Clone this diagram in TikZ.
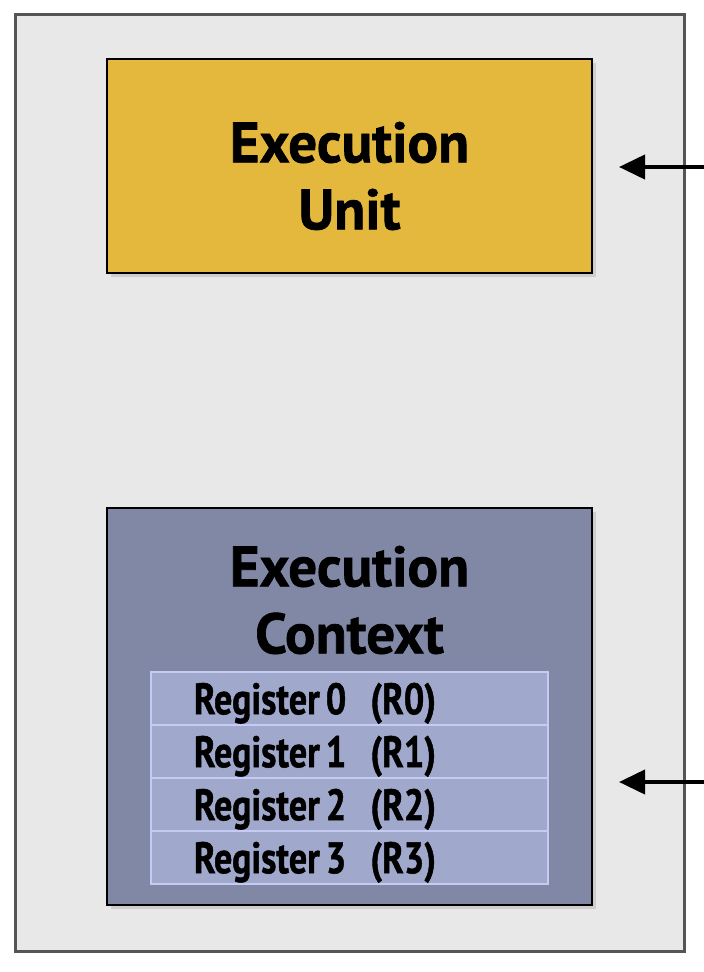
\documentclass[tikz,border=0pt]{standalone}
\usepackage{fontspec}
\setmainfont{PT Sans}
\newfontfamily\heavy[FakeBold=1.2]{PT Sans Bold}
\usetikzlibrary{arrows.meta,shadows}
\definecolor{outerfill}{HTML}{E8E8E8}
\definecolor{outerdraw}{HTML}{555555}
\definecolor{eufill}{HTML}{E3B83C}
\definecolor{ecfill}{HTML}{8088A6}
\definecolor{regfill}{HTML}{A0A8CC}
\definecolor{regdraw}{HTML}{C4CCF4}
\tikzset{
  outerbox/.style={draw=outerdraw,fill=outerfill,line width=3pt,minimum width=669pt,minimum height=937pt,inner sep=0pt},
  titlefont/.style={font=\fontsize{57}{67}\selectfont\heavy},
  unitbox/.style={draw=black,line width=2.5pt,minimum width=485pt,inner sep=0pt,align=center,titlefont,
    drop shadow={shadow xshift=4pt,shadow yshift=-4pt,opacity=0.25}},
  regbox/.style={draw=regdraw,fill=regfill,line width=1.5pt,minimum width=397pt,minimum height=53pt,inner sep=0pt,
    text width=397pt,text depth=0pt,font=\fontsize{44}{48}\selectfont\heavy},
  inarrow/.style={line width=4pt,-{Triangle[length=26pt,width=24pt]}}
}
\newcommand{\regtext}[1]{\hspace*{43pt}\scalebox{0.82}[1]{#1}}
\begin{document}
\begin{tikzpicture}[x=1pt,y=-1pt]
\useasboundingbox (0,0) rectangle (704,972);
\node[outerbox] (outer) at (349.5,482.5) {};
\node[unitbox,fill=eufill,minimum height=214pt] (eu) at (349.5,166) {};
\node[titlefont,align=center] (eutitle) at (349.5,176) {Execution\\Unit};
\node[unitbox,fill=ecfill,minimum height=397pt] (ec) at (349.5,706.5) {};
\node[titlefont,align=center] (ectitle) at (349.5,600) {Execution\\Context};
\node[regbox] (r0) at (349.5,698.5) {\regtext{Register\,0\ \ (R0)}};
\node[regbox] (r1) at (349.5,751.5) {\regtext{Register\,1\ \ (R1)}};
\node[regbox] (r2) at (349.5,804.5) {\regtext{Register\,2\ \ (R2)}};
\node[regbox] (r3) at (349.5,857.5) {\regtext{Register\,3\ \ (R3)}};
\coordinate (a1s) at (704,167);
\coordinate (a1e) at (619,167);
\coordinate (a2s) at (704,782);
\coordinate (a2e) at (619,782);
\draw[inarrow] (a1s) -- (a1e);
\draw[inarrow] (a2s) -- (a2e);
\end{tikzpicture}
\end{document}
